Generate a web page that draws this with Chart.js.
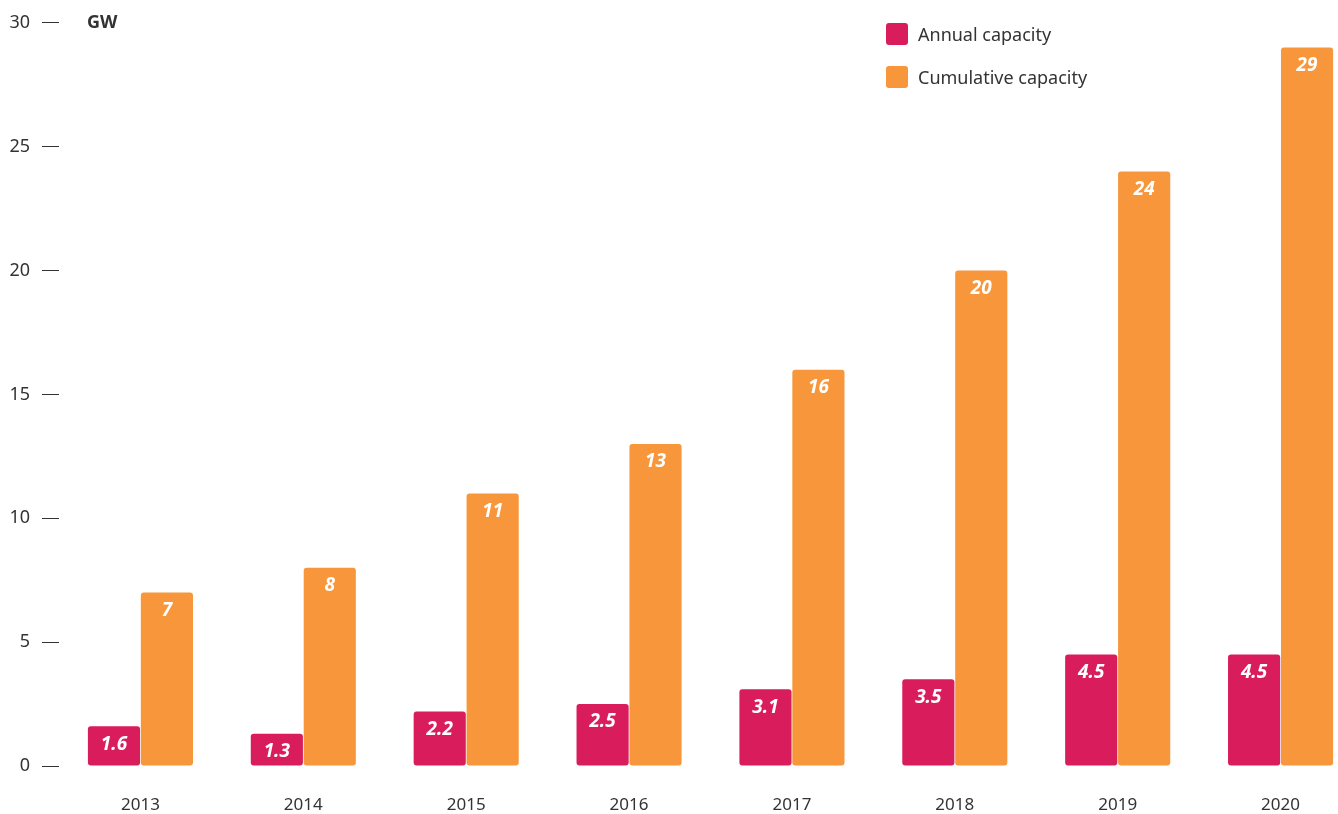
<!DOCTYPE html>
<html>
<head>
<meta charset="utf-8">
<script src="https://cdn.jsdelivr.net/npm/chart.js@4.4.0/dist/chart.umd.min.js"></script>
<style>
  html, body { margin: 0; padding: 0; background: #fff; overflow: hidden; }
  #wrap { position: relative; width: 1364px; height: 814px; }
</style>
</head>
<body>
<div id="wrap"><canvas id="c"></canvas></div>
<script>
const categories = ['2013', '2014', '2015', '2016', '2017', '2018', '2019', '2020'];
const annualCapacity = [1.6, 1.3, 2.2, 2.5, 3.1, 3.5, 4.5, 4.5];
const cumulativeCapacity = [7, 8, 11, 13, 16, 20, 24, 29];
const seriesNames = ['Annual capacity', 'Cumulative capacity'];
const unitLabel = 'GW';

const FONT = '"Noto Sans", "Open Sans", sans-serif';
const MAGENTA = '#D91C5C';
const ORANGE = '#F7963A';
const TEXT = '#333333';

const valueLabels = {
  id: 'valueLabels',
  afterDatasetsDraw(chart) {
    const ctx = chart.ctx;
    ctx.save();
    ctx.fillStyle = '#ffffff';
    ctx.font = 'italic bold 19px ' + FONT;
    ctx.textAlign = 'center';
    ctx.textBaseline = 'middle';
    chart.data.datasets.forEach((ds, di) => {
      chart.getDatasetMeta(di).data.forEach((bar, i) => {
        ctx.fillText(String(ds.data[i]), bar.x, bar.y + 18);
      });
    });
    ctx.restore();
  }
};

const extras = {
  id: 'extras',
  afterDraw(chart) {
    const ctx = chart.ctx;
    ctx.save();
    ctx.fillStyle = TEXT;
    ctx.font = 'bold 18px ' + FONT;
    ctx.textAlign = 'left';
    ctx.textBaseline = 'middle';
    ctx.fillText(unitLabel, 87, chart.chartArea.top);
    const colors = [MAGENTA, ORANGE];
    const ys = [34, 77];
    ctx.font = '18px ' + FONT;
    seriesNames.forEach((name, i) => {
      ctx.fillStyle = colors[i];
      ctx.beginPath();
      ctx.roundRect(886, ys[i] - 11, 22, 22, 3);
      ctx.fill();
      ctx.fillStyle = TEXT;
      ctx.fillText(name, 918, ys[i] + 2);
    });
    ctx.restore();
  }
};

new Chart(document.getElementById('c'), {
  type: 'bar',
  data: {
    labels: categories,
    datasets: [
      { label: seriesNames[0], data: annualCapacity, backgroundColor: MAGENTA, borderRadius: 3, borderSkipped: false },
      { label: seriesNames[1], data: cumulativeCapacity, backgroundColor: ORANGE, borderRadius: 3, borderSkipped: false }
    ]
  },
  options: {
    responsive: true,
    maintainAspectRatio: false,
    animation: false,
    layout: { padding: { left: 0, right: 2, top: 13, bottom: 0 } },
    datasets: { bar: { categoryPercentage: 0.65, barPercentage: 0.985 } },
    plugins: {
      legend: { display: false },
      tooltip: { enabled: false }
    },
    scales: {
      x: {
        grid: { display: false, drawTicks: false },
        border: { display: false },
        ticks: { color: TEXT, font: { family: FONT, size: 17 }, padding: 29 },
        afterFit(scale) { scale.height = 48; }
      },
      y: {
        min: 0, max: 30,
        ticks: { stepSize: 5, color: TEXT, font: { family: FONT, size: 18 }, padding: 12 },
        grid: { drawOnChartArea: false, drawTicks: true, tickLength: 17, color: TEXT, lineWidth: 1 },
        border: { display: false },
        afterFit(scale) { scale.width = 59; }
      }
    }
  },
  plugins: [valueLabels, extras]
});
</script>
</body>
</html>
